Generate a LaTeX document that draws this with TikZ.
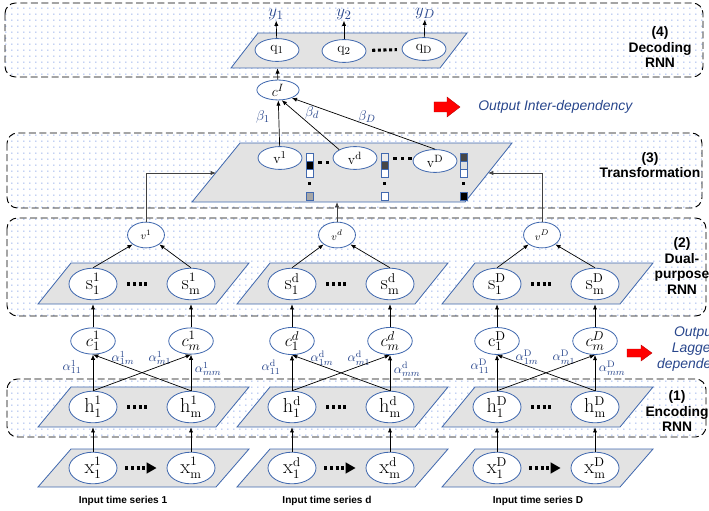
\documentclass[tikz,border=0pt]{standalone}
\usepackage[no-math]{fontspec}
\setmainfont{Liberation Sans}
\usetikzlibrary{arrows.meta,patterns.meta,shapes.geometric}

\definecolor{nodeblue}{RGB}{65,105,175}
\definecolor{labelblue}{RGB}{40,70,140}
\definecolor{dotblue}{RGB}{85,125,220}
\definecolor{planegray}{RGB}{227,227,227}

\tikzset{
  layer/.style={draw=black, line width=0.8pt, dash pattern=on 6pt off 3pt,
    rounded corners=9pt, pattern={Dots[distance=5.4pt,radius=0.55pt]}, pattern color=dotblue},
  plane/.style={draw=nodeblue, line width=0.7pt, fill=planegray},
  unitbase/.style={ellipse, draw=nodeblue, line width=0.7pt, fill=white, inner sep=0pt},
  xunit/.style={unitbase, minimum width=41pt, minimum height=27pt, font=\fontsize{16}{18}\selectfont},
  cunit/.style={unitbase, minimum width=38pt, minimum height=22pt, font=\fontsize{15}{17}\selectfont},
  vunit/.style={unitbase, minimum width=31.5pt, minimum height=22pt, font=\fontsize{9.5}{11}\selectfont},
  qunit/.style={unitbase, minimum width=37.5pt, minimum height=19.5pt, font=\fontsize{13}{15}\selectfont},
  weight/.style={text=labelblue, inner sep=0pt, font=\fontsize{11}{13}\selectfont},
  outlab/.style={text=labelblue, inner sep=0pt, font=\fontsize{15}{17}\selectfont},
  layertext/.style={align=center, inner sep=0pt, font=\fontsize{11.8}{13.2}\selectfont\bfseries},
  serieslabel/.style={inner sep=0pt, font=\fontsize{8.6}{10}\selectfont\bfseries},
  note/.style={text=labelblue, inner sep=0pt, font=\fontsize{11.9}{14}\selectfont\itshape},
  ellip/.style={line width=2.6pt, dash pattern=on 2.6pt off 2.2pt},
  toplane/.style={shorten >=3.4pt},
  cellbox/.style={draw=nodeblue, line width=0.5pt},
  redarrow/.style={fill=red, draw=red!70!black, line width=0.3pt},
}

\begin{document}
\begin{tikzpicture}[x=0.03cm, y=-0.03cm, >={Latex[length=4.5pt,width=3.6pt]}, line width=0.6pt]
\useasboundingbox (0,0) rectangle (709,510);

% dashed layers
\draw[layer] (5,3) rectangle (703,77);
\draw[layer] (7,133) rectangle (702,208);
\draw[layer] (7,218) rectangle (706,316);
\draw[layer] (7,379) rectangle (706,437);

\node[layertext] (lay4) at (660,47) {(4)\\Decoding\\RNN};
\node[layertext] (lay3) at (650,165) {(3)\\Transformation};
\node[layertext] (lay2) at (682,266) {(2)\\Dual-\\purpose\\RNN};
\node[layertext] (lay1) at (677,411) {(1)\\Encoding\\RNN};

% planes
\draw[plane] (258,33) -- (467,33) -- (440,68) -- (231,68) -- cycle;
\draw[plane] (240,143) -- (512,143) -- (465,202) -- (192,202) -- cycle;
\draw[plane] (71,263) -- (249,263) -- (216,304) -- (38,304) -- cycle;
\draw[plane] (71,387) -- (249,387) -- (216,427) -- (38,427) -- cycle;
\draw[plane] (71,449) -- (249,449) -- (216,487) -- (38,487) -- cycle;
\draw[plane] (270,263) -- (448,263) -- (415,304) -- (237,304) -- cycle;
\draw[plane] (270,387) -- (448,387) -- (415,427) -- (237,427) -- cycle;
\draw[plane] (270,449) -- (448,449) -- (415,487) -- (237,487) -- cycle;
\draw[plane] (475,263) -- (653,263) -- (620,304) -- (442,304) -- cycle;
\draw[plane] (475,387) -- (653,387) -- (620,427) -- (442,427) -- cycle;
\draw[plane] (475,449) -- (653,449) -- (620,487) -- (442,487) -- cycle;

% series 1
\node[xunit] (x11) at (93,468) {$\mathrm{x}_1^1$};
\node[xunit] (x1m) at (191,468) {$\mathrm{x}_\mathrm{m}^1$};
\node[xunit] (h11) at (93,407) {$\mathrm{h}_1^1$};
\node[xunit] (h1m) at (191,407) {$\mathrm{h}_\mathrm{m}^1$};
\node[cunit] (c11) at (93,341) {$c_1^1$};
\node[cunit] (c1m) at (191,341) {$c_m^1$};
\node[xunit] (s11) at (93,284) {$\mathrm{s}_1^1$};
\node[xunit] (s1m) at (191,284) {$\mathrm{s}_\mathrm{m}^1$};
\node[vunit] (v1) at (146,235) {$v^1$};

% series d
\node[xunit] (xd1) at (292,468) {$\mathrm{x}_1^\mathrm{d}$};
\node[xunit] (xdm) at (390,468) {$\mathrm{x}_\mathrm{m}^\mathrm{d}$};
\node[xunit] (hd1) at (292,407) {$\mathrm{h}_1^\mathrm{d}$};
\node[xunit] (hdm) at (390,407) {$\mathrm{h}_\mathrm{m}^\mathrm{d}$};
\node[cunit] (cd1) at (292,341) {$c_1^d$};
\node[cunit] (cdm) at (390,341) {$c_m^d$};
\node[xunit] (sd1) at (292,284) {$\mathrm{s}_1^\mathrm{d}$};
\node[xunit] (sdm) at (390,284) {$\mathrm{s}_\mathrm{m}^\mathrm{d}$};
\node[vunit] (vd) at (337,235) {$v^d$};

% series D
\node[xunit] (xD1) at (497,468) {$\mathrm{x}_1^\mathrm{D}$};
\node[xunit] (xDm) at (595,468) {$\mathrm{x}_\mathrm{m}^\mathrm{D}$};
\node[xunit] (hD1) at (497,407) {$\mathrm{h}_1^\mathrm{D}$};
\node[xunit] (hDm) at (595,407) {$\mathrm{h}_\mathrm{m}^\mathrm{D}$};
\node[cunit] (cD1) at (497,341) {$\mathrm{c}_1^\mathrm{D}$};
\node[cunit] (cDm) at (595,341) {$c_m^D$};
\node[xunit] (sD1) at (497,284) {$\mathrm{s}_1^\mathrm{D}$};
\node[xunit] (sDm) at (595,284) {$\mathrm{s}_\mathrm{m}^\mathrm{D}$};
\node[vunit] (vD) at (542,235) {$v^D$};

\node[serieslabel] (in1lab) at (123,501) {Input time series 1};
\node[serieslabel] (indlab) at (327,501) {Input time series d};
\node[serieslabel] (inDlab) at (538,501) {Input time series D};

% transformation
\node[qunit] (tv1) at (280,158) {$\mathrm{v}^1$};
\node[qunit] (tvd) at (355,158) {$\mathrm{v}^\mathrm{d}$};
\node[qunit] (tvD) at (435,161) {$\mathrm{v}^\mathrm{D}$};
\filldraw[cellbox, fill=white] (306,153) rectangle (313.5,161);
\filldraw[cellbox, fill=black] (306,161) rectangle (313.5,169);
\filldraw[cellbox, fill=white] (306,169) rectangle (313.5,177);
\filldraw[cellbox, fill=black!35] (306,192) rectangle (313.5,200);
\filldraw[cellbox, fill=black!8] (381,153) rectangle (388.5,161);
\filldraw[cellbox, fill=black!72] (381,161) rectangle (388.5,169);
\filldraw[cellbox, fill=white] (381,169) rectangle (388.5,177);
\filldraw[cellbox, fill=white] (381,192) rectangle (388.5,200);
\filldraw[cellbox, fill=black!72] (460,153) rectangle (467.5,161);
\filldraw[cellbox, fill=black!12] (460,161) rectangle (467.5,169);
\filldraw[cellbox, fill=white] (460,169) rectangle (467.5,177);
\filldraw[cellbox, fill=black] (460,192) rectangle (467.5,200);
\fill (308.2,181.5) rectangle ++(3.2,3.2);
\fill (383.2,181.5) rectangle ++(3.2,3.2);
\fill (462.2,181.5) rectangle ++(3.2,3.2);
\fill (318,160.5) rectangle ++(3.6,3.6);
\fill (325.5,160.5) rectangle ++(3.6,3.6);
\fill (393,156.5) rectangle ++(3.6,3.6);
\fill (400.5,156.5) rectangle ++(3.6,3.6);
\fill (408,156.5) rectangle ++(3.6,3.6);

% decoding
\node[cunit, minimum width=36pt, minimum height=17pt, font=\fontsize{13}{15}\selectfont] (cI) at (278,90) {$c^I$};
\node[qunit] (q1) at (277,50) {$\mathrm{q}_1$};
\node[qunit] (q2) at (344,51) {$\mathrm{q}_2$};
\node[qunit] (qD) at (424,49) {$\mathrm{q}_\mathrm{D}$};
\node[outlab] (y1) at (276,15) {$y_1$};
\node[outlab] (y2) at (344,15) {$y_2$};
\node[outlab] (yD) at (425,14) {$y_D$};

% attention weights
\node[weight] (a111) at (72,367) {$\alpha_{11}^1$};
\node[weight] (a11m) at (123,358) {$\alpha_{1m}^1$};
\node[weight] (a1m1) at (160,358) {$\alpha_{m1}^1$};
\node[weight] (a1mm) at (208,369) {$\alpha_{mm}^1$};
\node[weight] (ad11) at (271,367) {$\alpha_{11}^\mathrm{d}$};
\node[weight] (ad1m) at (322,358) {$\alpha_{1m}^\mathrm{d}$};
\node[weight] (adm1) at (359,358) {$\alpha_{m1}^\mathrm{d}$};
\node[weight] (admm) at (407,369) {$\alpha_{mm}^\mathrm{d}$};
\node[weight] (aD11) at (480,366) {$\alpha_{11}^\mathrm{D}$};
\node[weight] (aD1m) at (527,357) {$\alpha_{1m}^\mathrm{D}$};
\node[weight] (aDm1) at (564,357) {$\alpha_{m1}^\mathrm{D}$};
\node[weight] (aDmm) at (612,368) {$\alpha_{mm}^\mathrm{D}$};
\node[weight, font=\fontsize{13}{15}\selectfont] (b1) at (263,117) {$\beta_1$};
\node[weight, font=\fontsize{13}{15}\selectfont] (bd) at (312,113) {$\beta_d$};
\node[weight, font=\fontsize{13}{15}\selectfont] (bD) at (367,117) {$\beta_D$};

% side notes
\fill[redarrow] (434,102) -- (447,102) -- (447,97) -- (460,107) -- (447,117) -- (447,112) -- (434,112) -- cycle;
\node[note, anchor=west] (inter) at (478,107) {Output Inter-dependency};
\fill[redarrow] (627,349) -- (641,349) -- (641,345) -- (652,353) -- (641,361) -- (641,357) -- (627,357) -- cycle;
\node[note, align=center] (lagged) at (695,349) {Output\\Lagged\\dependency};

% input -> encoding -> attention -> dual-purpose
\draw[ellip, -{Triangle[length=8.5pt,width=9pt]}, shorten <=6.8pt, shorten >=8.5pt] (x11) -- (x1m);
\draw[ellip, -{Triangle[length=8.5pt,width=9pt]}, shorten <=6.8pt, shorten >=8.5pt] (xd1) -- (xdm);
\draw[ellip, -{Triangle[length=8.5pt,width=9pt]}, shorten <=6.8pt, shorten >=8.5pt] (xD1) -- (xDm);
\draw[ellip, shorten <=8.5pt, shorten >=14.5pt] (h11) -- (h1m);
\draw[ellip, shorten <=8.5pt, shorten >=14.5pt] (hd1) -- (hdm);
\draw[ellip, shorten <=8.5pt, shorten >=14.5pt] (hD1) -- (hDm);
\draw[ellip, shorten <=8.5pt, shorten >=14.5pt] (s11) -- (s1m);
\draw[ellip, shorten <=8.5pt, shorten >=14.5pt] (sd1) -- (sdm);
\draw[ellip, shorten <=8.5pt, shorten >=14.5pt] (sD1) -- (sDm);
\draw[ellip, shorten <=5pt, shorten >=4pt] (q2) -- (qD);

\draw[->, toplane] (x11) -- (h11);
\draw[->, toplane] (x1m) -- (h1m);
\draw[->, toplane] (xd1) -- (hd1);
\draw[->, toplane] (xdm) -- (hdm);
\draw[->, toplane] (xD1) -- (hD1);
\draw[->, toplane] (xDm) -- (hDm);

\draw[->] (h11) -- (c11);
\draw[->] (h1m) -- (c1m);
\draw[->] (h11.north) -- (c1m.south);
\draw[->] (h1m.north) -- (c11.south);
\draw[->] (hd1) -- (cd1);
\draw[->] (hdm) -- (cdm);
\draw[->] (hd1.north) -- (cdm.south);
\draw[->] (hdm.north) -- (cd1.south);
\draw[->] (hD1) -- (cD1);
\draw[->] (hDm) -- (cDm);
\draw[->] (hD1.north) -- (cDm.south);
\draw[->] (hDm.north) -- (cD1.south);

\draw[->, toplane] (c11) -- (s11);
\draw[->, toplane] (c1m) -- (s1m);
\draw[->, toplane] (cd1) -- (sd1);
\draw[->, toplane] (cdm) -- (sdm);
\draw[->, toplane] (cD1) -- (sD1);
\draw[->, toplane] (cDm) -- (sDm);

\draw[->] (s11.north) -- (v1.south west);
\draw[->] (s1m.north) -- (v1.south east);
\draw[->] (sd1.north) -- (vd.south west);
\draw[->] (sdm.north) -- (vd.south east);
\draw[->] (sD1.north) -- (vD.south west);
\draw[->] (sDm.north) -- (vD.south east);

% dual-purpose -> transformation -> decoding
\coordinate (feed1) at (216,173);
\coordinate (feedd) at (337,202);
\coordinate (feedD) at (488,173);
\draw[->, black!75] (v1) |- (feed1);
\draw[->, black!75] (vd) -- (feedd);
\draw[->, black!75] (vD) |- (feedD);

\draw[->] (tv1) -- (cI);
\draw[->] (tvd.north west) -- (cI.-70);
\draw[->] (tvD.north) -- (cI.-30);
\draw[->, shorten >=5.5pt] (cI) -- (q1);
\draw[->] (q1) -- (y1);
\draw[->] (q2) -- (y2);
\draw[->] (qD) -- (yD);
\end{tikzpicture}
\end{document}
